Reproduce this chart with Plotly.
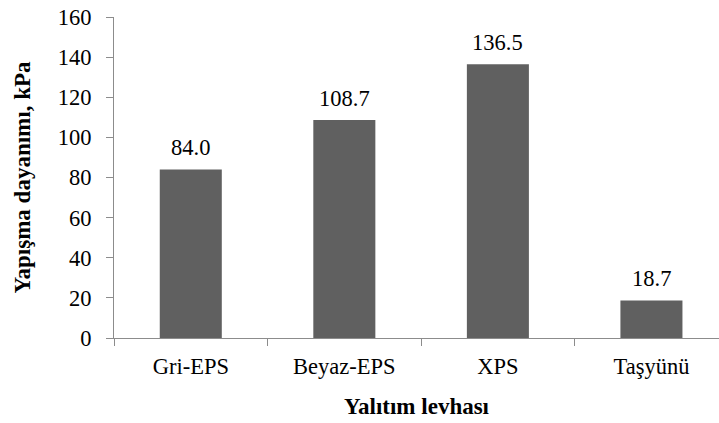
import plotly.graph_objects as go

# Bonding strength per insulation board type
categories = ["Gri-EPS", "Beyaz-EPS", "XPS", "Taşyünü"]
strength_kpa = [84.0, 108.7, 136.5, 18.7]

y_ticks = [0, 20, 40, 60, 80, 100, 120, 140, 160]

FONT = "Liberation Serif"
FS = 22.5
FS_TITLE = 23
BAR_COLOR = "#606060"
AXIS_COLOR = "#8c8c8c"

fig = go.Figure()
fig.add_trace(
    go.Bar(
        x=categories,
        y=strength_kpa,
        marker=dict(color=BAR_COLOR, line=dict(width=0)),
        width=0.404,
        hoverinfo="x+y",
    )
)

# Value labels above each bar
for cat, val in zip(categories, strength_kpa):
    fig.add_annotation(
        x=cat,
        y=val,
        text=f"{val:.1f}",
        showarrow=False,
        yanchor="bottom",
        yshift=7,
        font=dict(family=FONT, size=FS, color="#000000"),
    )

fig.update_layout(
    width=719,
    height=423,
    margin=dict(l=114, r=0, t=17, b=85),
    paper_bgcolor="white",
    plot_bgcolor="white",
    showlegend=False,
    font=dict(family=FONT, size=FS, color="#000000"),
    xaxis=dict(
        type="category",
        range=[-0.5, 3.44],
        tickson="boundaries",
        ticks="outside",
        ticklen=7,
        tickcolor=AXIS_COLOR,
        showline=True,
        linecolor=AXIS_COLOR,
        linewidth=1,
        showgrid=False,
        ticklabelstandoff=8,
        tickfont=dict(family=FONT, size=FS, color="#000000"),
        title=dict(
            text="<b>Yalıtım levhası</b>",
            font=dict(family=FONT, size=FS_TITLE, color="#000000"),
            standoff=19,
        ),
        automargin=False,
    ),
    yaxis=dict(
        range=[0, 160],
        tickvals=y_ticks,
        ticks="outside",
        ticklen=7,
        tickcolor=AXIS_COLOR,
        showline=True,
        linecolor=AXIS_COLOR,
        linewidth=1,
        showgrid=False,
        zeroline=False,
        ticklabelstandoff=10,
        tickfont=dict(family=FONT, size=FS, color="#000000"),
        title=dict(
            text="<b>Yapışma dayanımı, kPa</b>",
            font=dict(family=FONT, size=FS_TITLE, color="#000000"),
            standoff=20,
        ),
        automargin=False,
    ),
)

fig.write_html("out.html")
